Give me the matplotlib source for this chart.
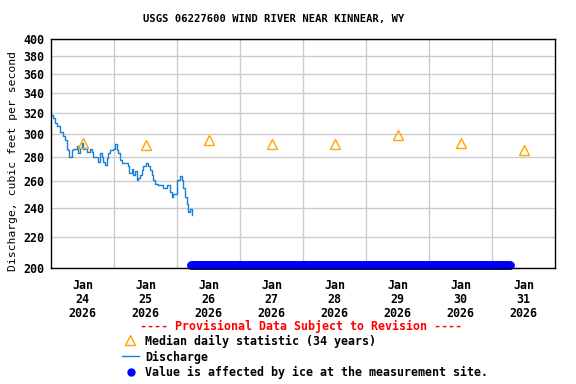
import numpy as np
import pandas as pd
import matplotlib
matplotlib.use('Agg')
import matplotlib.pyplot as plt
from matplotlib.lines import Line2D
from matplotlib.ticker import FixedLocator, NullLocator

plt.rcParams['font.family'] = ['DejaVu Sans Mono']
plt.rcParams['font.weight'] = 'bold'

t0 = pd.Timestamp('2026-01-24 00:00')

# discharge (hours after Jan 24 00:00, cfs), step trace
q_hours = [0.0, 0.3, 0.9, 1.5, 2.4, 3.4, 4.1, 4.5, 5.3, 6.0, 6.4, 7.0, 7.9, 8.5,
           9.2, 9.8, 10.4, 11.0, 11.7, 12.3, 13.0, 13.6, 14.2, 14.9, 15.5, 16.1,
           16.4, 18.0, 18.7, 19.3, 19.9, 20.6, 21.2, 21.8, 22.5, 23.7, 24.4, 25.0,
           25.6, 26.3, 26.9, 28.2, 29.4, 29.8, 30.7, 31.4, 32.0, 32.6, 33.3, 33.9,
           34.6, 35.2, 36.2, 37.1, 37.7, 38.4, 39.0, 39.6, 40.9, 42.8, 44.1, 44.7,
           45.3, 46.0, 46.6, 47.2, 47.9, 49.1, 49.8, 50.4, 51.0, 51.7, 52.3, 52.9,
           53.6]
q_vals = [318, 318, 315, 310, 307, 302, 302, 298, 295, 287, 286, 280, 286, 287,
          287, 289, 283, 288, 292, 287, 288, 284, 284, 287, 284, 280,
          280, 276, 283, 280, 276, 273, 279, 283, 286, 287, 291, 286,
          283, 277, 275, 275, 272, 267, 270, 265, 268, 261, 263, 265,
          269, 272, 275, 272, 269, 265, 261, 258, 257, 255, 257, 257,
          252, 248, 250, 250, 261, 264, 261, 255, 248, 243, 237, 239,
          235]

# median daily statistic (34 years), plotted at noon
med_days = ['2026-01-24', '2026-01-25', '2026-01-26', '2026-01-27',
            '2026-01-28', '2026-01-29', '2026-01-30', '2026-01-31']
med_vals = [292, 290, 295, 291, 291, 299, 292, 286]

# ice-affected period (15-minute values)
ice_start = '2026-01-26 05:15'
ice_end = '2026-01-31 07:00'
ice_level = 202

q_time = [t0 + pd.Timedelta(hours=h) for h in q_hours]
med_time = [pd.Timestamp(d) + pd.Timedelta(hours=12) for d in med_days]
ice_time = pd.date_range(ice_start, ice_end, freq='15min')

fig = plt.figure(figsize=(5.76, 3.84), dpi=100)
ax = fig.add_axes([51 / 576, 116 / 384, 504 / 576, 229 / 384])

ax.plot(q_time, q_vals, color='#1b7fd6', lw=1.0, drawstyle='steps-post', zorder=3)
ax.plot(med_time, med_vals, ls='none', marker='^', ms=7, mfc='none',
        mec='#ffa500', mew=1.0, zorder=4)
ax.plot(ice_time, [ice_level] * len(ice_time), ls='none', marker='o', ms=5,
        color='#0000ff', zorder=5, clip_on=False)

ax.set_yscale('log')
ax.set_ylim(200, 400)
yt = list(range(200, 401, 20))
ax.yaxis.set_major_locator(FixedLocator(yt))
ax.yaxis.set_minor_locator(NullLocator())
ax.set_yticklabels([str(v) for v in yt])

ax.set_xlim(t0, t0 + pd.Timedelta(days=8))
grid_days = [t0 + pd.Timedelta(days=i) for i in range(1, 8)]
for g in grid_days:
    ax.axvline(g, color='#cccccc', lw=1.0, zorder=1)
ax.set_xticks(med_time)
ax.set_xticklabels(['Jan\n%s\n2026' % d[-2:] for d in med_days], linespacing=1.1)
ax.xaxis.set_minor_locator(NullLocator())

ax.grid(axis='y', color='#cccccc', lw=1.0, zorder=1)
ax.tick_params(axis='both', length=0, labelsize=8.4, pad=5)
ax.tick_params(axis='x', pad=8)
for s in ax.spines.values():
    s.set_linewidth(1.0)
    s.set_zorder(6)

ax.set_ylabel('Discharge, cubic feet per second', fontsize=8.2)
ax.yaxis.set_label_coords(-33 / 504, (268 - 161) / 229)
fig.text(274 / 576, 1 - 19 / 384, 'USGS 06227600 WIND RIVER NEAR KINNEAR, WY',
         ha='center', va='center', fontsize=7.6)

fig.text(301 / 576, 1 - 326 / 384, '---- Provisional Data Subject to Revision ----',
         ha='center', va='center', fontsize=8.4, color='red')
ly = [341, 357, 372]
fig.add_artist(Line2D([130 / 576], [1 - 340 / 384], marker='^', ms=7, mfc='none',
                      mec='#ffa500', mew=1.0, transform=fig.transFigure))
fig.add_artist(Line2D([122 / 576, 139 / 576], [1 - 356 / 384] * 2, color='#1b7fd6',
                      lw=1.0, transform=fig.transFigure))
fig.add_artist(Line2D([131 / 576], [1 - 372 / 384], marker='o', ms=5, color='#0000ff',
                      transform=fig.transFigure))
labels = ['Median daily statistic (34 years)', 'Discharge',
          'Value is affected by ice at the measurement site.']
for y, lab in zip(ly, labels):
    fig.text(145 / 576, 1 - y / 384, lab, ha='left', va='center', fontsize=8.4)

fig.savefig('out.png', dpi=100)
